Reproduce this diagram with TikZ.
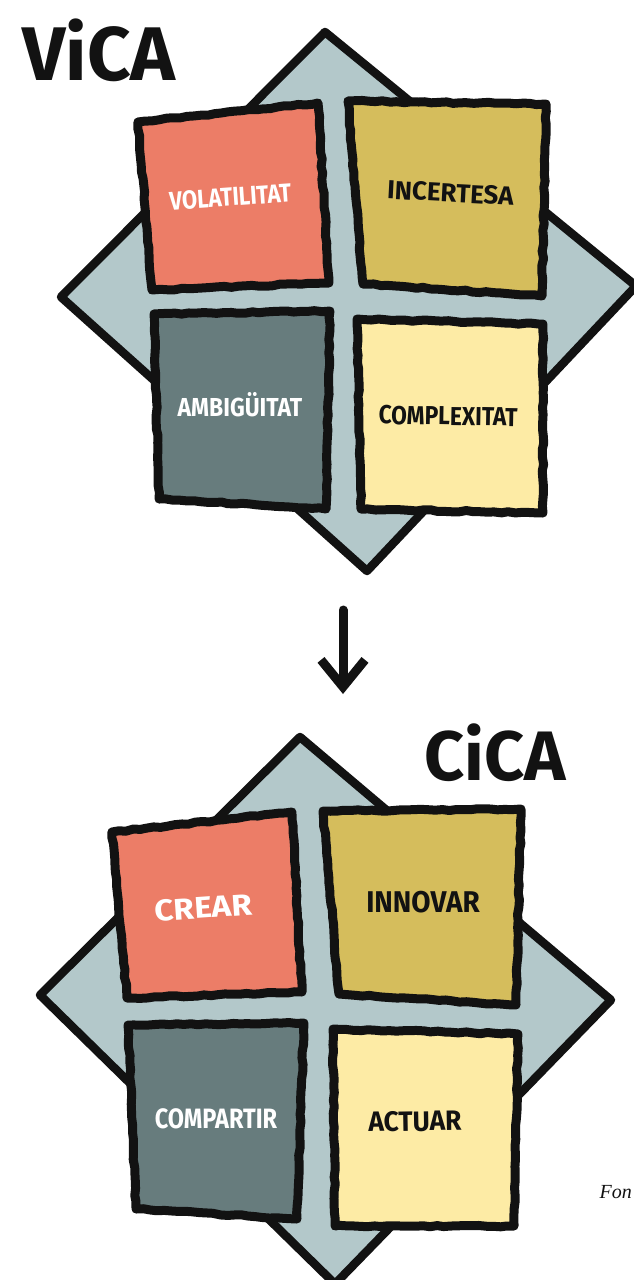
\documentclass[tikz,border=0pt]{standalone}
\usepackage{fontspec}
\usepackage{graphicx}
\setmainfont{Fira Sans}
\newfontfamily\srcfont{Liberation Serif}
\usetikzlibrary{arrows.meta,decorations.pathmorphing}
\definecolor{ink}{HTML}{121212}
\definecolor{cred}{HTML}{EC7D67}
\definecolor{cmus}{HTML}{D5BD5C}
\definecolor{cslate}{HTML}{677C7D}
\definecolor{ccream}{HTML}{FDEBA5}
\definecolor{cgray}{HTML}{B3C8CA}
\newcommand\hs[2]{\scalebox{#1}[1]{#2}}
\begin{document}
\begin{tikzpicture}[x=1pt,y=-1pt,
  outline/.style={draw=ink, line width=9pt, line join=round, line cap=round},
  diamondline/.style={draw=ink, line width=8.5pt, line join=round},
  sketch/.style={decorate, decoration={random steps, segment length=7pt, amplitude=0.8pt}},
  title/.style={font=\bfseries\fontsize{#1}{#1}\selectfont, text=ink, inner sep=0pt, anchor=base},
  lbl/.style={font=\bfseries\fontsize{#1}{#1}\selectfont, inner sep=0pt, anchor=base},
  lblw/.style={lbl=#1, text=white},
  lblk/.style={lbl=#1, text=ink}]
\pgfmathsetseed{7}
\useasboundingbox (0,0) rectangle (633,1280);

% ---------- VICA ----------
\node[title=76] (vica) at (99,80) {ViCA};
\filldraw[diamondline, fill=cgray] (325,32) -- (636,286) -- (367,571) -- (61,297) -- cycle;
\filldraw[outline, sketch, fill=cred]   (138,122) -- (318,103) -- (329,283) -- (152,290) -- cycle;
\filldraw[outline, sketch, fill=cmus]   (348,101) -- (546,104) -- (542,296) -- (363,284) -- cycle;
\filldraw[outline, sketch, fill=cslate] (154,314) -- (330,311) -- (326,509) -- (159,499) -- cycle;
\filldraw[outline, sketch, fill=ccream] (357,319) -- (543,324) -- (543,513) -- (361,509) -- cycle;
\node[lblw=26, rotate=4]  (vol) at (231,206) {\hs{0.85}{VOLATILITAT}};
\node[lblk=26, rotate=-3] (inc) at (450,202) {\hs{1.0}{INCERTESA}};
\node[lblw=26]            (amb) at (240,416) {\hs{0.88}{AMBIGÜITAT}};
\node[lblk=26, rotate=-1] (com) at (448,425) {\hs{0.875}{COMPLEXITAT}};

% ---------- arrow ----------
\coordinate (atop) at (343,610);
\coordinate (abot) at (343,694);
\draw[draw=ink, line width=9pt, line cap=round, line join=round,
  -{Straight Barb[length=27pt,width=44pt]}] (atop) -- (abot);

% ---------- CICA ----------
\node[title=70] (cica) at (495,780) {CiCA};
\filldraw[diamondline, fill=cgray] (300,737) -- (611,1000) -- (335,1284) -- (40,995) -- cycle;
\filldraw[outline, sketch, fill=cred]   (112,832) -- (292,812) -- (302,992) -- (127,998) -- cycle;
\filldraw[outline, sketch, fill=cmus]   (323,811) -- (521,809) -- (516,1005) -- (339,994) -- cycle;
\filldraw[outline, sketch, fill=cslate] (128,1025) -- (304,1023) -- (297,1219) -- (136,1209) -- cycle;
\filldraw[outline, sketch, fill=ccream] (333,1029) -- (518,1034) -- (514,1226) -- (335,1226) -- cycle;
\node[lblw=30, rotate=4] (cre) at (204,918) {\hs{1.11}{CREAR}};
\node[lblk=30]           (inn) at (423,912) {\hs{0.93}{INNOVAR}};
\node[lblw=28]           (cmp) at (216,1128) {\hs{0.84}{COMPARTIR}};
\node[lblk=28, rotate=1] (act) at (415,1131) {\hs{0.94}{ACTUAR}};

% ---------- source ----------
\node[font=\srcfont\itshape\fontsize{20}{20}\selectfont, text=ink, anchor=base east, inner sep=0pt] (fon) at (632,1198) {Fon};
\end{tikzpicture}
\end{document}
